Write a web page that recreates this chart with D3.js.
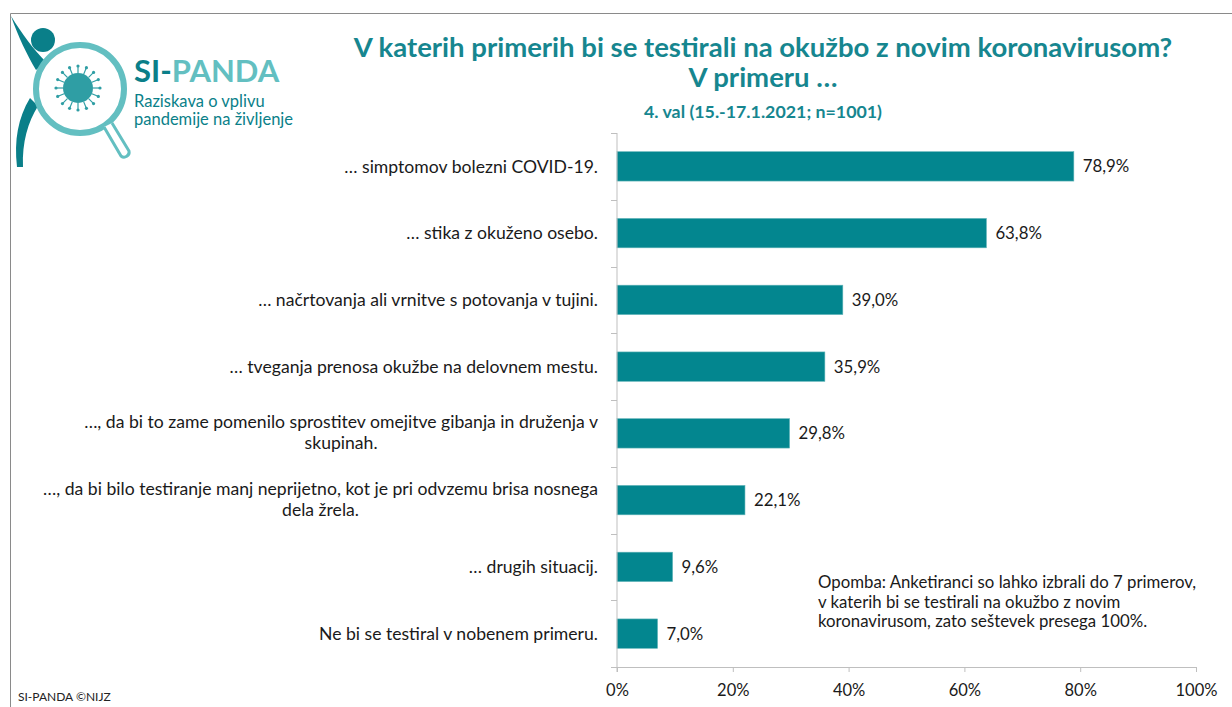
<!DOCTYPE html>
<html><head><meta charset="utf-8">
<script src="https://cdn.jsdelivr.net/npm/d3@7"></script>
<style>
body{margin:0;background:#fff;}
svg{display:block;font-family:Lato, "Open Sans", sans-serif;}
</style></head>
<body>
<svg id="c" width="1232" height="707"></svg>
<script>
const categories = [
  ["… simptomov bolezni COVID-19."],
  ["… stika z okuženo osebo."],
  ["… načrtovanja ali vrnitve s potovanja v tujini."],
  ["… tveganja prenosa okužbe na delovnem mestu."],
  ["…, da bi to zame pomenilo sprostitev omejitve gibanja in druženja v", "skupinah."],
  ["…, da bi bilo testiranje manj neprijetno, kot je pri odvzemu brisa nosnega", "dela žrela."],
  ["… drugih situacij."],
  ["Ne bi se testiral v nobenem primeru."]
];
const values = [78.9, 63.8, 39.0, 35.9, 29.8, 22.1, 9.6, 7.0];
const xTicks = [0, 20, 40, 60, 80, 100];
const titleLines = ["V katerih primerih bi se testirali na okužbo z novim koronavirusom?", "V primeru …"];
const subtitle = "4. val (15.-17.1.2021; n=1001)";
const noteLines = ["Opomba: Anketiranci so lahko izbrali do 7 primerov,", "v katerih bi se testirali na okužbo z novim", "koronavirusom, zato seštevek presega 100%."];
const footer = "SI-PANDA ©NIJZ";

const svg = d3.select("#c");
const teal = "#03868f";
const titleCol = "#16868f";
const axisCol = "#bfbfbf";
const idx = d3.range(categories.length);

// frame
svg.append("line").attr("x1",10.5).attr("x2",1232).attr("y1",13.5).attr("y2",13.5).attr("stroke","#8a8a8a");
svg.append("line").attr("x1",10.5).attr("x2",10.5).attr("y1",13.5).attr("y2",707).attr("stroke","#8a8a8a");

const x = d3.scaleLinear().domain([0,100]).range([617,1196]);
const y = d3.scaleBand().domain(idx).range([133,667]).paddingInner(0.56).paddingOuter(0.28);
const yb = d3.scaleBand().domain(idx).range([133,667]);

// bars
svg.append("g").selectAll("rect").data(idx).join("rect")
  .attr("x", x(0)).attr("y", d=>y(d)).attr("width", d=>x(values[d])-x(0)).attr("height", y.bandwidth())
  .attr("fill", teal).attr("stroke","#5fb3b8").attr("stroke-width",0.6);

// value labels
svg.append("g").selectAll("text").data(idx).join("text")
  .attr("x", d=>x(values[d])+9).attr("y", d=>y(d)+y.bandwidth()/2).attr("dy","0.36em")
  .attr("font-size",16.8).attr("fill","#1a1a1a")
  .text(d=>d3.format(".1f")(values[d]).replace(".",",")+"%");

// x axis
const xa = svg.append("g").attr("transform","translate(0,667)")
  .call(d3.axisBottom(x).tickValues(xTicks).tickSize(5).tickPadding(12).tickFormat(d=>d+"%"));
xa.select(".domain").attr("stroke",axisCol).attr("d","M611,0.5H1196.5V5");
xa.selectAll(".tick line").attr("stroke",axisCol);
xa.selectAll("text").attr("font-size",16.5).attr("fill","#1a1a1a").attr("font-family","Lato, sans-serif");

// y axis line and ticks
const ya = svg.append("g");
ya.append("line").attr("x1",617).attr("x2",617).attr("y1",133).attr("y2",672).attr("stroke",axisCol);
ya.selectAll("line.t").data(d3.range(categories.length+1)).join("line").attr("class","t")
  .attr("x1",611).attr("x2",617).attr("y1",d=>Math.round(133+d*yb.step())+0.5).attr("y2",d=>Math.round(133+d*yb.step())+0.5).attr("stroke",axisCol);

// category labels
const lab = svg.append("g").selectAll("g").data(idx).join("g");
const catSize = 17.6;
lab.each(function(d){
  const g = d3.select(this);
  const lines = categories[d];
  const cy = y(d)+y.bandwidth()/2;
  const lh = 21;
  if(lines.length===1){
    g.append("text").attr("x",598).attr("y",cy).attr("dy","0.36em").attr("text-anchor","end")
      .attr("font-size",catSize).attr("fill","#1a1a1a").text(lines[0]);
  } else {
    const t = g.append("text").attr("font-size",catSize).attr("fill","#1a1a1a");
    const l1 = t.append("tspan").attr("x",598).attr("y",cy-lh/2-1).attr("dy","0.36em").attr("text-anchor","end").text(lines[0]);
    const w = l1.node().getComputedTextLength();
    t.append("tspan").attr("x",598-w/2).attr("y",cy+lh/2-1).attr("dy","0.36em").attr("text-anchor","middle").text(lines[1]);
  }
});

// titles
svg.append("text").attr("x",763).attr("y",57).attr("text-anchor","middle").attr("font-size",27.5).attr("font-weight","bold").attr("fill",titleCol).text(titleLines[0]);
svg.append("text").attr("x",763).attr("y",87).attr("text-anchor","middle").attr("font-size",27.5).attr("font-weight","bold").attr("fill",titleCol).text(titleLines[1]);
svg.append("text").attr("x",763).attr("y",118).attr("text-anchor","middle").attr("font-size",17.8).attr("font-weight","bold").attr("fill",titleCol).text(subtitle);

// note
svg.append("g").selectAll("text").data(noteLines).join("text")
  .attr("x",818).attr("y",(d,i)=>588+i*19.5).attr("font-size",16.8).attr("fill","#1a1a1a").text(d=>d);

// footer
svg.append("text").attr("x",18).attr("y",701).attr("font-size",12).attr("fill","#222").text(footer);

// logo
const lg = svg.append("g");
const dark = "#0a7f89", light = "#63bfc1";
// body arm
lg.append("path").attr("d","M11,16 C18,36 27,55 36,70 L46,62 C34,50 22,34 11,16 Z").attr("fill",dark);
lg.append("circle").attr("cx",43).attr("cy",40).attr("r",12).attr("fill",dark);
// leg
lg.append("path").attr("d","M30,98 C18,118 14,140 17,167 L23,167 C22,142 28,122 38,106 Z").attr("fill",dark);
// magnifier
lg.append("circle").attr("cx",80).attr("cy",89).attr("r",44).attr("fill","none").attr("stroke",light).attr("stroke-width",6);
lg.append("path").attr("d","M104,127 L121,156 A5,5 0 0 0 129,151 L112,123").attr("fill","white").attr("stroke",light).attr("stroke-width",3);
// virus
const vir = lg.append("g").attr("transform","translate(78,88)");
vir.append("circle").attr("r",15).attr("fill","#2f9ea4");
d3.range(16).forEach(i=>{
  const a = i/16*2*Math.PI;
  vir.append("line").attr("x1",Math.cos(a)*15).attr("y1",Math.sin(a)*15).attr("x2",Math.cos(a)*21).attr("y2",Math.sin(a)*21).attr("stroke","#2f9ea4").attr("stroke-width",1.2);
  vir.append("circle").attr("cx",Math.cos(a)*22).attr("cy",Math.sin(a)*22).attr("r",1.6).attr("fill","#2f9ea4");
});
// logo text
const lt = lg.append("text").attr("x",134).attr("y",82).attr("font-size",31).attr("font-weight","bold");
lt.append("tspan").attr("fill",dark).text("SI-");
lt.append("tspan").attr("fill",light).text("PANDA");
lg.append("text").attr("x",134).attr("y",107).attr("font-size",16.5).attr("fill",dark).text("Raziskava o vplivu");
lg.append("text").attr("x",134).attr("y",125).attr("font-size",16.5).attr("fill",dark).text("pandemije na življenje");
</script>
</body></html>
